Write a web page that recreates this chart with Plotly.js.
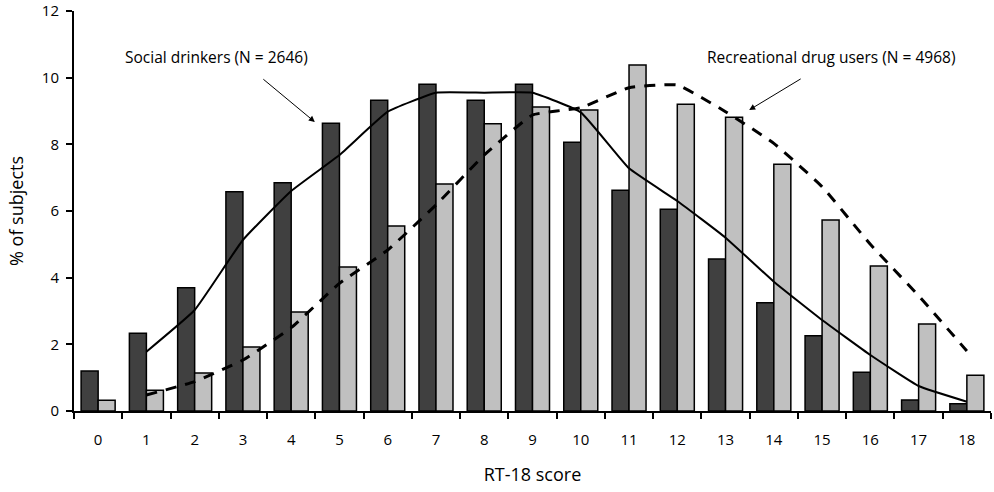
<!DOCTYPE html>
<html>
<head>
<meta charset="utf-8">
<script src="https://cdn.plot.ly/plotly-3.0.1.min.js"></script>
<style>
  html, body { margin: 0; padding: 0; background: #fff; }
  #chart { width: 994px; height: 492px; }
</style>
</head>
<body>
<div id="chart"></div>
<script>
// RT-18 score categories
const scores = [0,1,2,3,4,5,6,7,8,9,10,11,12,13,14,15,16,17,18];

// % of subjects per score
const socialDrinkers = [1.2,2.33,3.7,6.58,6.85,8.63,9.32,9.8,9.32,9.8,8.06,6.62,6.05,4.56,3.25,2.26,1.16,0.33,0.22];
const drugUsers      = [0.32,0.62,1.14,1.92,2.97,4.32,5.55,6.81,8.62,9.12,9.03,10.38,9.2,8.81,7.4,5.73,4.35,2.61,1.07];

// Smoothed trend curves (scores 1–18)
const trendScores  = [1,2,3,4,5,6,7,8,9,10,11,12,13,14,15,16,17,18];
const socialTrend  = [1.78,3.03,5.13,6.6,7.68,8.98,9.55,9.55,9.55,8.96,7.28,6.3,5.2,3.88,2.73,1.68,0.75,0.28];
const drugTrend    = [0.48,0.88,1.53,2.5,3.83,4.83,6.18,7.68,8.88,9.1,9.7,9.78,8.98,8.03,6.73,5.0,3.46,1.8];

const yTicks = [0,2,4,6,8,10,12];

const FONT = "Open Sans, Noto Sans, sans-serif";

const traces = [
  {
    type: 'bar', x: scores, y: socialDrinkers, name: 'Social drinkers',
    marker: { color: '#404040', line: { color: '#000', width: 1.5 } }
  },
  {
    type: 'bar', x: scores, y: drugUsers, name: 'Recreational drug users',
    marker: { color: '#c0c0c0', line: { color: '#000', width: 1.5 } }
  },
  {
    type: 'scatter', mode: 'lines', x: trendScores, y: socialTrend,
    line: { color: '#000', width: 2, shape: 'spline', smoothing: 0.35 }
  },
  {
    type: 'scatter', mode: 'lines', x: trendScores, y: drugTrend,
    line: { color: '#000', width: 3, dash: '11px,9px', shape: 'spline', smoothing: 0.35 }
  }
];

const layout = {
  width: 994, height: 492,
  margin: { l: 74, r: 3, t: 11, b: 81 },
  paper_bgcolor: '#fff', plot_bgcolor: '#fff',
  showlegend: false,
  barmode: 'group', bargap: 0.295, bargroupgap: 0,
  font: { family: FONT, size: 15, color: '#000' },
  xaxis: {
    type: 'category',
    range: [-0.5, 18.5],
    tickson: 'boundaries',
    ticks: 'outside', ticklen: 6, tickwidth: 2, tickcolor: '#000',
    ticklabelstandoff: 14,
    showline: true, linecolor: '#000', linewidth: 2,
    showgrid: false, zeroline: false,
    tickfont: { family: FONT, size: 15 },
    title: { text: 'RT-18 score', font: { family: FONT, size: 18 }, standoff: 20 }
  },
  yaxis: {
    range: [0, 12],
    tickvals: yTicks,
    ticks: 'outside', ticklen: 6, tickwidth: 2, tickcolor: '#000',
    ticklabelstandoff: 4,
    showline: true, linecolor: '#000', linewidth: 2,
    showgrid: false, zeroline: false,
    tickfont: { family: FONT, size: 15 },
    title: { text: '% of subjects', font: { family: FONT, size: 18 }, standoff: 14 }
  },
  annotations: [
    {
      xref: 'x', yref: 'y', x: 2.46, y: 10.62, showarrow: false,
      text: 'Social drinkers (N = 2646)', font: { family: FONT, size: 15.5 }
    },
    {
      xref: 'x', yref: 'y', x: 4.49, y: 8.67, text: '', showarrow: true,
      arrowhead: 2, arrowsize: 1.2, arrowwidth: 1, arrowcolor: '#000', ax: -53, ay: -44
    },
    {
      xref: 'x', yref: 'y', x: 15.19, y: 10.62, showarrow: false,
      text: 'Recreational drug users (N = 4968)', font: { family: FONT, size: 15.5 }
    },
    {
      xref: 'x', yref: 'y', x: 13.49, y: 9.03, text: '', showarrow: true,
      arrowhead: 2, arrowsize: 1.2, arrowwidth: 1, arrowcolor: '#000', ax: 53, ay: -32
    }
  ]
};

Plotly.newPlot('chart', traces, layout, { displayModeBar: false, staticPlot: true });
</script>
</body>
</html>
